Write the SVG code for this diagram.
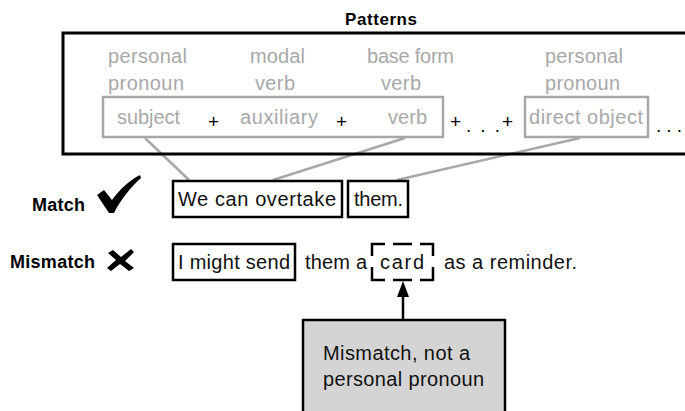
<svg xmlns="http://www.w3.org/2000/svg" width="685" height="411" viewBox="0 0 685 411">
<style>
.g{font-family:"Liberation Sans",Arial,sans-serif;font-size:20px;fill:#a8a8a8}
.t{font-family:"Liberation Sans",Arial,sans-serif;font-size:20px;fill:#111}
.b{font-family:"Liberation Sans",Arial,sans-serif;font-weight:bold;fill:#000}
.p{font-family:"Liberation Sans",Arial,sans-serif;font-size:19px;fill:#000}
.gbox{fill:none;stroke:#a8a8a8;stroke-width:2.5}
.kbox{fill:none;stroke:#000;stroke-width:2.5}
.conn{stroke:#a8a8a8;stroke-width:2.5;fill:none}
</style>
<rect width="685" height="411" fill="#fff"/>

<g id="connectors">
<line class="conn" x1="145" y1="138" x2="189" y2="180"/>
<line class="conn" x1="405" y1="138" x2="273" y2="180"/>
<line class="conn" x1="580" y1="138" x2="397" y2="180"/>
<line x1="403" y1="319" x2="403" y2="296" stroke="#000" stroke-width="2.5"/>
<path d="M403,281 L409,297 L397,297 Z" fill="#000"/>
</g>

<g id="patterns">
<rect x="63" y="33" width="640" height="121" fill="none" stroke="#000" stroke-width="3"/>
<text class="b" x="345" y="25" font-size="17" textLength="72">Patterns</text>
<rect class="gbox" x="103" y="97" width="340" height="40"/>
<rect class="gbox" x="525" y="97" width="123" height="40"/>
<text class="g" x="108" y="63" textLength="79">personal</text>
<text class="g" x="108" y="90" textLength="76">pronoun</text>
<text class="g" x="250" y="63" textLength="55">modal</text>
<text class="g" x="255" y="90" textLength="40">verb</text>
<text class="g" x="367" y="63" textLength="87">base form</text>
<text class="g" x="381" y="90" textLength="40">verb</text>
<text class="g" x="545" y="63" textLength="78">personal</text>
<text class="g" x="545" y="90" textLength="75">pronoun</text>
<text class="g" x="117" y="124" textLength="63">subject</text>
<text class="g" x="240" y="124" textLength="78">auxiliary</text>
<text class="g" x="388" y="124" textLength="39">verb</text>
<text class="g" x="529" y="124" textLength="114">direct object</text>
<text class="p" x="208" y="128">+</text>
<text class="p" x="336" y="128">+</text>
<text class="p" x="450" y="128">+</text>
<text class="p" x="502" y="128">+</text>
<text class="p" x="466" y="132" textLength="34">. . .</text>
<text class="p" x="656" y="132" textLength="26">. . .</text>
</g>

<g id="match">
<text class="b" x="32" y="211" font-size="18" textLength="53">Match</text>
<path d="M97,195 L104,190 L112,200 C120,189 130,180 140,175 L141,178 C131,187 121,199 114,213 L109,213 Z" fill="#000"/>
<rect class="kbox" x="173" y="181" width="169" height="36"/>
<text class="t" x="178" y="206" textLength="158">We can overtake</text>
<rect class="kbox" x="348" y="181" width="60" height="36"/>
<text class="t" x="354" y="206" textLength="49">them.</text>
</g>

<g id="mismatch">
<text class="b" x="10" y="268" font-size="18" textLength="85">Mismatch</text>
<path d="M108,253 L113,250 L121,257 L131,249 L134,252 L125,261 L134,268 L129,271 L120,264 L111,271 L107,268 L116,260 Z" fill="#000"/>
<rect class="kbox" x="173" y="244" width="122" height="36"/>
<text class="t" x="178" y="269" textLength="112">I might send</text>
<text class="t" x="305" y="269" textLength="62">them a</text>
<g stroke="#000" stroke-width="2.5" fill="none">
<path d="M385,244 L372,244 L372,256"/>
<path d="M372,267 L372,280 L385,280"/>
<path d="M393,244 L412,244"/>
<path d="M393,280 L412,280"/>
<path d="M420,244 L433,244 L433,256"/>
<path d="M433,267 L433,280 L420,280"/>
</g>
<text class="t" x="380" y="269" textLength="44">card</text>
<text class="t" x="444" y="269" textLength="133">as a reminder.</text>
</g>

<g id="note">
<rect x="303" y="320" width="202" height="100" fill="#d4d4d4" stroke="#000" stroke-width="2.5"/>
<text class="t" x="323" y="360" textLength="147">Mismatch, not a</text>
<text class="t" x="323" y="386" textLength="161">personal pronoun</text>
</g>
</svg>
